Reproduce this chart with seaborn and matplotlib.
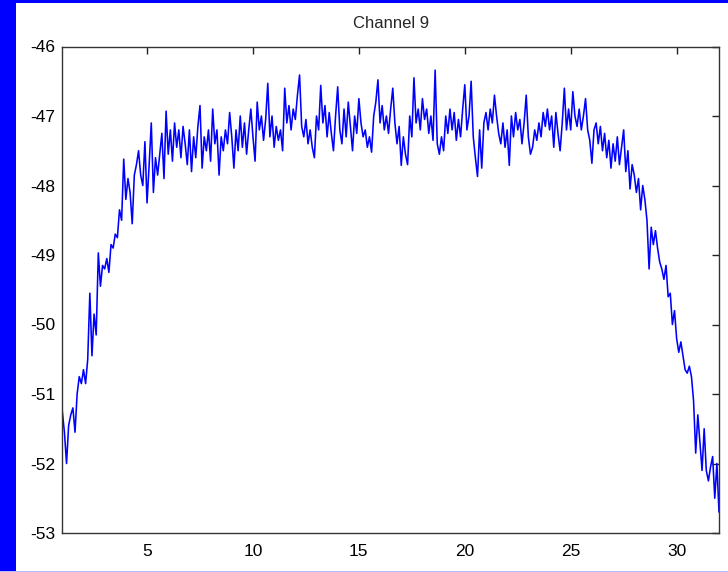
import numpy as np
import pandas as pd
import matplotlib
matplotlib.use("Agg")
import matplotlib.pyplot as plt
from matplotlib.patches import Rectangle
import seaborn as sns

title = "Channel 9"
x_start, x_step = 1.0, 0.1
power_db = [
    -51.25, -51.55, -52.0, -51.45, -51.3, -51.2, -51.55, -51.0, -50.75, -50.85,
    -50.65, -50.85, -50.5, -49.55, -50.45, -49.85, -50.15, -48.97, -49.45, -49.15,
    -49.2, -49.05, -49.25, -48.85, -48.9, -48.7, -48.75, -48.35, -48.5, -47.62,
    -48.2, -47.9, -48.1, -48.55, -47.85, -47.7, -47.5, -47.85, -48.0, -47.37,
    -48.25, -47.7, -47.1, -48.1, -47.6, -47.85, -47.55, -47.25, -47.9, -46.93,
    -47.55, -47.2, -47.65, -47.1, -47.45, -47.2, -47.6, -47.15, -47.4, -47.7,
    -47.2, -47.8, -47.3, -47.6, -47.15, -46.85, -47.75, -47.3, -47.5, -47.2,
    -47.65, -46.9, -47.4, -47.2, -47.85, -47.3, -47.5, -47.2, -47.4, -46.95,
    -47.3, -47.75, -47.2, -47.5, -47.0, -47.45, -47.1, -47.55, -47.2, -46.9,
    -47.3, -47.65, -46.8, -47.2, -47.0, -47.35, -47.05, -46.53, -47.3, -47.0,
    -47.45, -47.15, -47.35, -47.2, -47.5, -46.6, -47.1, -46.85, -47.2, -46.9,
    -47.05, -46.7, -46.41, -47.15, -47.3, -47.05, -47.4, -47.2, -47.45, -47.6,
    -47.0, -47.2, -46.56, -47.1, -46.85, -47.3, -46.95, -47.25, -47.5, -47.0,
    -46.58, -47.2, -47.4, -46.9, -47.3, -46.8, -47.15, -47.5, -47.0, -47.25,
    -46.75, -47.1, -47.3, -47.2, -47.45, -47.3, -47.52, -47.0, -46.8, -46.48,
    -47.1, -46.85, -47.2, -47.0, -47.25, -46.9, -46.6, -47.1, -47.4, -47.15,
    -47.71, -47.3, -47.55, -47.7, -47.0, -47.3, -46.45, -47.1, -46.9, -47.2,
    -46.75, -47.05, -46.9, -47.25, -47.0, -47.35, -46.34, -47.4, -47.55, -47.3,
    -47.5, -47.0, -47.25, -46.9, -47.2, -46.95, -47.35, -47.05, -47.3, -46.9,
    -46.55, -47.2, -47.0, -46.5, -47.3, -47.6, -47.87, -47.2, -47.75, -47.1,
    -46.95, -47.2, -46.9, -47.1, -46.7, -47.0, -47.25, -47.4, -47.1, -47.45,
    -47.2, -47.71, -47.0, -47.3, -46.95, -47.2, -47.05, -47.4, -47.1, -46.7,
    -47.3, -47.55, -47.45, -47.2, -47.35, -47.1, -47.3, -46.95, -47.15, -46.9,
    -47.2, -47.0, -47.45, -46.95, -47.25, -47.5, -47.1, -46.6, -47.2, -46.9,
    -47.2, -46.65, -47.0, -47.15, -46.9, -47.2, -47.0, -46.75, -47.2, -47.35,
    -47.68, -47.2, -47.1, -47.4, -47.15, -47.5, -47.25, -47.6, -47.35, -47.75,
    -47.4, -47.65, -47.3, -47.7, -47.45, -47.2, -47.8, -47.5, -48.05, -47.7,
    -47.85, -48.1, -47.9, -48.35, -48.0, -48.2, -48.5, -49.2, -48.6, -48.85,
    -48.65, -48.9, -49.1, -49.2, -49.35, -49.15, -49.6, -49.55, -50.0, -49.8,
    -50.2, -50.4, -50.25, -50.45, -50.65, -50.7, -50.6, -50.75, -51.1, -51.85,
    -51.3, -51.7, -52.1, -51.5, -52.1, -52.25, -52.05, -51.9, -52.5, -52.0,
    -52.7,
]
x_vals = np.round(x_start + x_step * np.arange(len(power_db)), 2)
x_ticks = [5, 10, 15, 20, 25, 30]
y_ticks = [-53, -52, -51, -50, -49, -48, -47, -46]

df = pd.DataFrame({"x": x_vals, "y": power_db})

sns.set_style("white")
plt.rcParams["font.family"] = ["Liberation Sans", "DejaVu Sans"]
plt.rcParams["axes.unicode_minus"] = False

fig = plt.figure(figsize=(7.28, 5.72), dpi=100, facecolor="white")
fig.patches.append(Rectangle((0, 0), 16 / 728, 1, transform=fig.transFigure,
                             facecolor="#0000ff", edgecolor="none", zorder=0))
fig.patches.append(Rectangle((0, 1 - 3 / 572), 1, 3 / 572, transform=fig.transFigure,
                             facecolor="#0000ff", edgecolor="none", zorder=0))
fig.patches.append(Rectangle((0, 0), 1, 1.5 / 572, transform=fig.transFigure,
                             facecolor="#b8bcff", edgecolor="none", zorder=0))

ax = fig.add_axes([62.3 / 728, 39 / 572, (719 - 62.3) / 728, (533 - 46.5) / 572])
sns.lineplot(data=df, x="x", y="y", ax=ax, color="#0000ff", linewidth=1.15,
             estimator=None, sort=False)
ax.set_xlim(1, 32)
ax.set_ylim(-53, -46)
ax.set_xticks(x_ticks)
ax.set_yticks(y_ticks)
ax.set_xticklabels([str(t) for t in x_ticks])
ax.set_yticklabels([str(t) for t in y_ticks])
ax.set_xlabel("")
ax.set_ylabel("")
ax.set_title(title, fontsize=12, pad=13)
ax.tick_params(direction="in", length=5, width=1, colors="#222222",
               labelcolor="black", labelsize=12.5, top=True, right=True,
               labeltop=False, labelright=False)
ax.tick_params(axis="x", pad=8)
ax.tick_params(axis="y", pad=5)
for s in ax.spines.values():
    s.set_visible(True)
    s.set_color("#333333")
    s.set_linewidth(1.0)

fig.savefig("out.png", dpi=100, facecolor=fig.get_facecolor())
